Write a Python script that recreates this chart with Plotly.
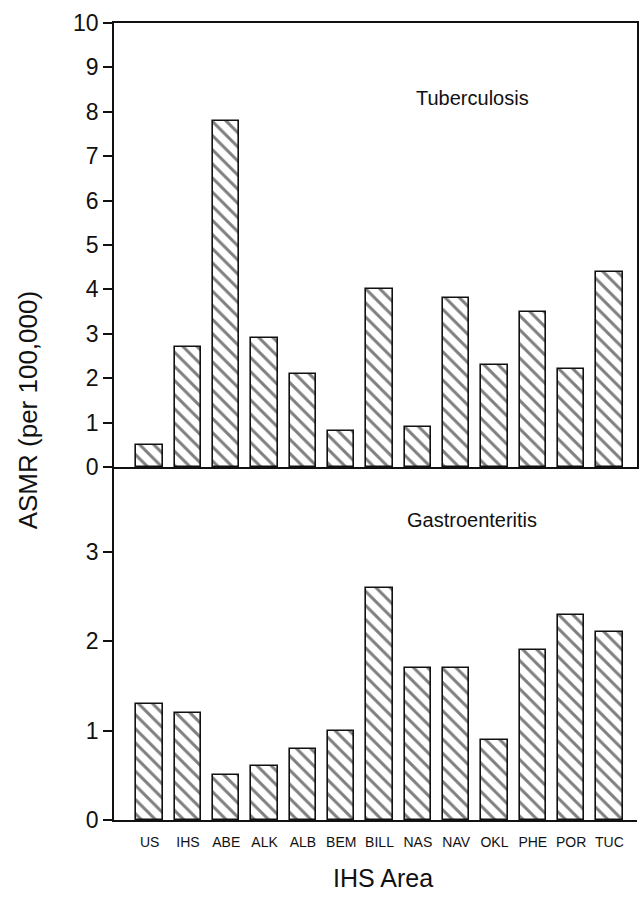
import plotly.graph_objects as go

areas = ["US", "IHS", "ABE", "ALK", "ALB", "BEM", "BILL", "NAS", "NAV", "OKL", "PHE", "POR", "TUC"]
tuberculosis = [0.5, 2.7, 7.8, 2.9, 2.1, 0.8, 4.0, 0.9, 3.8, 2.3, 3.5, 2.2, 4.4]
gastroenteritis = [1.3, 1.2, 0.5, 0.6, 0.8, 1.0, 2.6, 1.7, 1.7, 0.9, 1.9, 2.3, 2.1]
top_ticks = list(range(0, 11))
bottom_ticks = [0, 1, 2, 3]

ink = "#111111"
font = "Liberation Sans, Arial, Helvetica, sans-serif"

def bar(y, xa, ya):
    return go.Bar(
        x=areas, y=y, xaxis=xa, yaxis=ya, width=0.69,
        marker=dict(color="white", line=dict(color=ink, width=1.6),
                    pattern=dict(shape="\\", fgcolor="black", bgcolor="white",
                                 size=10, solidity=0.3, fillmode="overlay")),
        showlegend=False, hoverinfo="x+y")

fig = go.Figure([bar(tuberculosis, "x", "y"), bar(gastroenteritis, "x2", "y2")])

split = 0.4429
xr = [-0.93, 12.72]
axline = dict(showline=True, linecolor=ink, linewidth=1.6, showgrid=False, zeroline=False)

def ann(text, x, y, size, angle=0):
    return dict(text=text, xref="paper", yref="paper", x=(x - 114) / 525, y=(820 - y) / 797,
                xanchor="center", yanchor="middle", textangle=angle, showarrow=False,
                font=dict(size=size, family=font, color=ink))

fig.update_layout(
    width=641, height=912,
    margin=dict(l=114, r=2, t=23, b=92),
    paper_bgcolor="white", plot_bgcolor="white",
    font=dict(family=font, color=ink),
    bargap=0,
    xaxis=dict(domain=[0, 1], anchor="y", range=xr, showticklabels=False, ticks="",
               mirror=True, **axline),
    yaxis=dict(domain=[split, 1], anchor="x", range=[0, 10], tickvals=top_ticks,
               ticks="outside", ticklen=9, tickwidth=1.6, tickcolor=ink,
               tickfont=dict(size=23, family=font, color=ink), mirror=True, **axline),
    xaxis2=dict(domain=[0, 1], anchor="y2", range=xr, ticks="", ticklabelstandoff=8,
                tickfont=dict(size=14, family=font, color=ink), **axline),
    yaxis2=dict(domain=[0, split], anchor="x2", range=[0, 3.953], tickvals=bottom_ticks,
                ticks="outside", ticklen=9, tickwidth=1.6, tickcolor=ink,
                tickfont=dict(size=23, family=font, color=ink), **axline),
    annotations=[
        ann("Tuberculosis", 474, 98, 20),
        ann("Gastroenteritis", 473, 520, 20),
        ann("ASMR (per 100,000)", 28, 410, 26, -90),
        ann("IHS Area", 384, 878, 25),
    ],
)

fig.write_html("out.html")
